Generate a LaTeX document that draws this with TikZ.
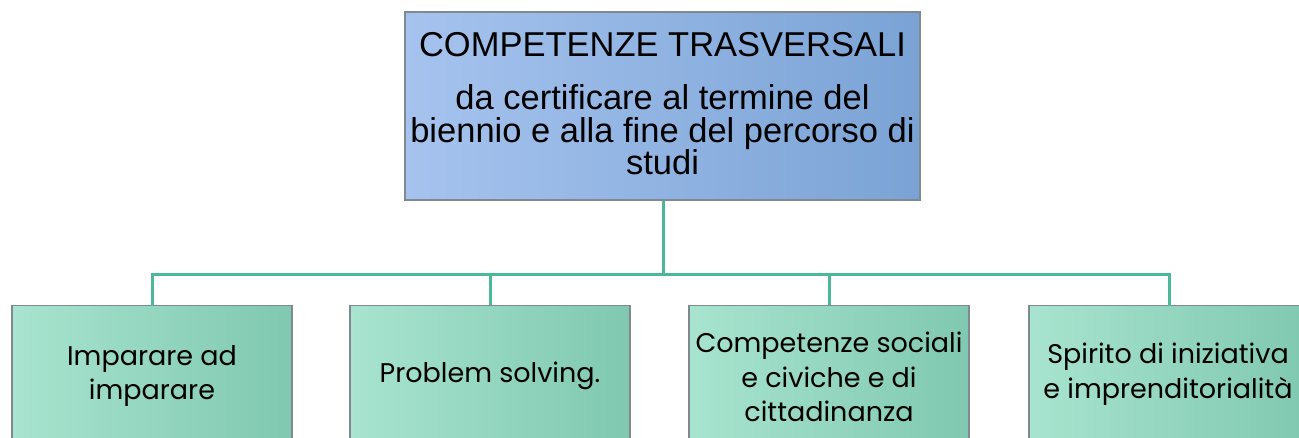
\documentclass[tikz,border=0pt]{standalone}
\usepackage{fontspec}
\setmainfont{Liberation Sans}
\newfontfamily\gothic{Poppins}
\definecolor{topL}{HTML}{A6C3EE}
\definecolor{topR}{HTML}{7AA3D5}
\definecolor{boxL}{HTML}{A8E4CF}
\definecolor{boxR}{HTML}{80C8B0}
\definecolor{edge}{HTML}{808890}
\definecolor{conn}{HTML}{4BB898}
\begin{document}
\begin{tikzpicture}[x=1pt,y=-1pt,
  topbox/.style={draw=edge,line width=1.2pt,left color=topL,right color=topR,
    minimum width=515pt,minimum height=188pt,inner sep=0pt},
  toptext/.style={align=center,inner sep=0pt,font=\fontsize{34.5}{32.5}\selectfont},
  leafbox/.style={draw=edge,line width=1.2pt,left color=boxL,right color=boxR,
    minimum width=280pt,minimum height=150pt,inner sep=0pt,anchor=north},
  leaftext/.style={align=center,inner sep=0pt,font=\gothic\fontsize{27}{34.5}\selectfont},
  link/.style={draw=conn,line width=3pt}]
\useasboundingbox (0,0) rectangle (1299,438);
\begin{scope}
\clip (0,0) rectangle (1299,438);
\node[topbox] (top) at (662.5,106) {};
\node[toptext] (t0) at (662.5,45) {COMPETENZE TRASVERSALI};
\node[toptext] (t1) at (662.5,130) {da certificare al termine del\\biennio e alla fine del percorso di\\studi};
\node[leafbox] (a) at (152,305) {};
\node[leafbox] (b) at (490,305) {};
\node[leafbox] (c) at (829,305) {};
\node[leafbox] (d) at (1169,305) {};
\node[leaftext] (ta) at (152,376) {Imparare ad\\imparare};
\node[leaftext] (tb) at (490,376) {Problem solving.};
\node[leaftext] (tc) at (829,377) {Competenze sociali\\e civiche e di\\cittadinanza};
\node[leaftext] (td) at (1168,374) {Spirito di iniziativa\\e imprenditorialità};
\coordinate (j) at (663,275);
\draw[link] (top.south -| j) -- (j);
\draw[link,line cap=rect] (a.north) |- (j) -| (d.north);
\draw[link] (b.north) -- (b.north |- j);
\draw[link] (c.north) -- (c.north |- j);
\end{scope}
\end{tikzpicture}
\end{document}
